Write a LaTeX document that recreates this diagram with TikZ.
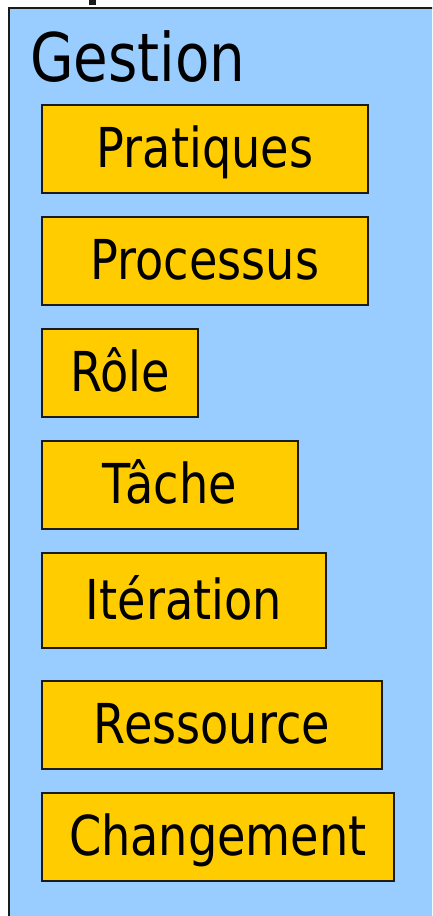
\documentclass[tikz,border=0pt]{standalone}
\usepackage{fontspec}
\setmainfont{DejaVu Sans}[FakeStretch=0.84]
\definecolor{panelblue}{HTML}{99CCFF}
\definecolor{boxyellow}{HTML}{FFCC00}
\definecolor{edgegray}{HTML}{1A1A1A}
\begin{document}
\begin{tikzpicture}[x=1pt,y=1pt,
  item/.style={draw=edgegray, line width=1.8pt, fill=boxyellow, anchor=north west,
    minimum height=88pt, inner sep=0pt, text height=40pt, text depth=2pt,
    font=\fontsize{55}{60}\selectfont},
  title/.style={anchor=base west, inner sep=0pt, font=\fontsize{67}{72}\selectfont}]
\useasboundingbox (0,0) rectangle (432,916);
\clip (0,0) rectangle (432,916);
% package panel
\filldraw[fill=panelblue, draw=edgegray, line width=2pt] (9,-10) rectangle (445,908);
\fill[edgegray] (89,916) rectangle (96,911);
\node[title] (gestion) at (30,834) {Gestion};
% elements
\node[item, minimum width=326pt] (pratiques) at (41,812) {Pratiques};
\node[item, minimum width=326pt] (processus) at (41,700) {Processus};
\node[item, minimum width=156pt] (role) at (41,588) {Rôle};
\node[item, minimum width=256pt] (tache) at (41,476) {Tâche};
\node[item, minimum width=284pt, minimum height=95pt] (iteration) at (41,364) {Itération};
\node[item, minimum width=340pt] (ressource) at (41,236) {Ressource};
\node[item, minimum width=352pt] (changement) at (41,124) {Changement};
\end{tikzpicture}
\end{document}
